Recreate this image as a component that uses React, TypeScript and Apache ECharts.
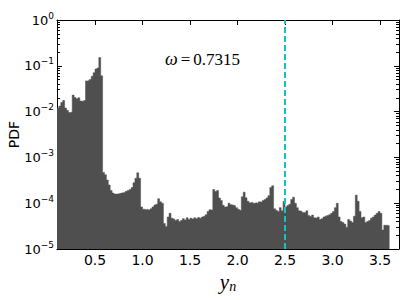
import React, { useEffect, useRef } from "react";
import * as echarts from "echarts";

// Histogram: bins start at 0.10 with width 0.02
const binStart = 0.1;
const binWidth = 0.02;

const pdfPart1 = [ // 0.10 - 0.58
  0.0120, 0.0132, 0.0158, 0.0174, 0.0120, 0.0107, 0.0095, 0.0098, 0.0229, 0.0204,
  0.0191, 0.0200, 0.0170, 0.0166, 0.0174, 0.0468, 0.0479, 0.0501, 0.0589, 0.0708,
  0.0851, 0.0891, 0.151, 0.0603, 4.7e-4,
];
const pdfPart2 = [ // 0.60 - 0.98
  4.2e-4, 3.2e-4, 2.5e-4, 1.9e-4, 1.66e-4, 1.58e-4, 1.58e-4, 1.62e-4, 1.66e-4, 1.7e-4,
  1.74e-4, 1.82e-4, 1.9e-4, 2.0e-4, 2.2e-4, 2.8e-4, 3.5e-4, 4.6e-4, 3.5e-4, 8.3e-5,
];
const pdfPart3 = [ // 1.00 - 1.28
  7.4e-5, 7.2e-5, 7.4e-5, 7.1e-5, 7.6e-5, 8.3e-5, 9.1e-5, 9.5e-5, 1.25e-4, 1.07e-4,
  1.0e-4, 3.6e-5, 3.1e-5, 5.0e-5, 6.0e-5,
];
const pdfPart4 = [ // 1.30 - 1.72
  4.7e-5, 4.5e-5, 4.2e-5, 4.4e-5, 4.0e-5, 4.2e-5, 4.6e-5, 4.3e-5, 4.8e-5, 4.4e-5,
  4.7e-5, 4.5e-5, 4.8e-5, 4.6e-5, 4.9e-5, 4.7e-5, 5.0e-5, 5.2e-5, 5.6e-5, 6.6e-5,
  7.2e-5, 7.0e-5,
];
const pdfPart5 = [ // 1.74 - 2.02
  2.0e-4, 1.8e-4, 1.9e-4, 1.3e-4, 1.15e-4, 9.0e-5, 8.3e-5, 8.5e-5, 1.0e-4, 9.3e-5,
  9.0e-5, 8.8e-5, 8.0e-5, 7.4e-5, 7.0e-5,
];
const pdfPart6 = [ // 2.04 - 2.36
  1.38e-4, 1.74e-4, 1.32e-4, 1.1e-4, 1.02e-4, 1.05e-4, 1.0e-4, 1.02e-4, 1.0e-4, 1.07e-4,
  1.05e-4, 1.15e-4, 1.2e-4, 1.3e-4, 1.45e-4, 2.2e-4, 2.4e-4,
];
const pdfPart7 = [ // 2.38 - 3.58
  7.6e-5, 7.0e-5, 6.6e-5, 8.0e-5, 6.8e-5, 1.1e-4, 8.3e-5, 8.9e-5, 9.5e-5, 1.2e-4,
  1.35e-4, 1.0e-4, 8.0e-5, 6.8e-5, 6.6e-5, 6.3e-5, 6.2e-5, 6.8e-5, 5.4e-5, 5.1e-5,
  5.5e-5, 4.8e-5, 4.7e-5, 5.0e-5, 4.4e-5, 4.6e-5, 5.0e-5, 5.2e-5, 5.4e-5, 5.6e-5,
  6.0e-5, 6.6e-5, 8.0e-5, 1.0e-4, 5.0e-5, 4.0e-5, 3.8e-5, 3.5e-5, 3.0e-5, 4.4e-5,
  4.1e-5, 3.8e-5, 5.2e-5, 1.5e-4, 1.1e-4, 6.6e-5, 4.8e-5, 5.0e-5, 3.8e-5, 4.0e-5,
  4.2e-5, 4.7e-5, 5.0e-5, 5.5e-5, 6.0e-5, 6.6e-5, 6.0e-5, 2.6e-5, 3.3e-5, 3.3e-5,
  3.2e-5,
];

const pdfValues = [
  ...pdfPart1, ...pdfPart2, ...pdfPart3, ...pdfPart4, ...pdfPart5, ...pdfPart6, ...pdfPart7,
];

const xMin = 0.1;
const xMax = 3.7;
const yMin = 1e-5;
const yMax = 1;
const markerX = 2.5;
const omegaValue = "0.7315";
const yLabel = "PDF";

const FONT = "DejaVu Sans";
const SERIF = "Liberation Serif";
const BAR = "#4f4f4f";

export default function App() {
  const ref = useRef<HTMLDivElement>(null);
  useEffect(() => {
    if (!ref.current) return;
    const chart = echarts.init(ref.current, null, { renderer: "svg" });
    const stepData: number[][] = pdfValues.map((v, i) => [binStart + i * binWidth, v]);
    stepData.push([binStart + pdfValues.length * binWidth, pdfValues[pdfValues.length - 1]]);

    const xLabelFmt = (v: number) => {
      const r = Math.round(v * 2) / 2;
      return Math.abs(r - v) < 1e-6 ? v.toFixed(1) : "";
    };
    const yLabelFmt = (v: number) => {
      const e = Math.round(Math.log10(v));
      return `{b|10}{s|${e === 0 ? "0" : "\u2212" + -e}}`;
    };

    const baseX = {
      type: "value" as const,
      min: xMin,
      max: xMax,
      splitNumber: 7,
      splitLine: { show: false },
      axisLine: { show: true, onZero: false, lineStyle: { color: "#000", width: 1 } },
      axisTick: { show: true, inside: true, length: 5, lineStyle: { color: "#000" } },
    };
    const baseY = {
      type: "log" as const,
      logBase: 10,
      min: yMin,
      max: yMax,
      splitNumber: 5,
      splitLine: { show: false },
      axisLine: { show: true, onZero: false, lineStyle: { color: "#000", width: 1 } },
      axisTick: { show: true, inside: true, length: 5, lineStyle: { color: "#000" } },
      minorTick: { show: true, splitNumber: 9, length: 3, lineStyle: { color: "#000" } },
    };

    chart.setOption({
      animation: false,
      backgroundColor: "#fff",
      grid: { left: 57, top: 20, right: 10, bottom: 51, containLabel: false, outerBoundsMode: "none" },
      xAxis: [
        {
          ...baseX,
          position: "bottom",
          axisLabel: {
            show: true,
            formatter: xLabelFmt,
            fontSize: 14,
            fontFamily: FONT,
            color: "#000",
            margin: 4,
            showMinLabel: false,
            showMaxLabel: false,
          },
          name: "{i|y}{sub|n}",
          nameLocation: "middle",
          nameGap: 22,
          nameMoveOverlap: false,
          nameTextStyle: {
            rich: {
              i: { fontFamily: SERIF, fontStyle: "italic", fontSize: 21, color: "#000" },
              sub: { fontFamily: SERIF, fontStyle: "italic", fontSize: 14, color: "#000", padding: [8, 0, 0, 0] },
            },
          },
        },
        {
          ...baseX,
          position: "top",
          axisLabel: { show: false },
        },
      ],
      yAxis: [
        {
          ...baseY,
          position: "left",
          axisLabel: {
            show: true,
            formatter: yLabelFmt,
            margin: 3,
            rich: {
              b: { fontSize: 13, fontFamily: FONT, color: "#000" },
              s: { fontSize: 9, fontFamily: FONT, color: "#000", padding: [0, 0, 9, 0] },
            },
          },
          name: yLabel,
          nameLocation: "middle",
          nameGap: 36,
          nameMoveOverlap: false,
          nameTextStyle: { fontSize: 14, fontFamily: FONT, color: "#000" },
        },
        {
          ...baseY,
          position: "right",
          axisLabel: { show: false },
        },
      ],
      graphic: [
        {
          type: "text",
          left: 165,
          top: 50,
          silent: true,
          style: {
            text: `{w|\u03c9}{q|=}{n|${omegaValue}}`,
            rich: {
              w: { fontFamily: SERIF, fontStyle: "italic", fontSize: 18, fill: "#000" },
              q: { fontFamily: SERIF, fontSize: 17, fill: "#000", padding: [0, 3, 0, 3] },
              n: { fontFamily: SERIF, fontSize: 17, fill: "#000" },
            },
          },
        },
      ],
      series: [
        {
          type: "line",
          xAxisIndex: 0,
          yAxisIndex: 0,
          data: stepData,
          step: "end",
          showSymbol: false,
          symbol: "none",
          lineStyle: { color: BAR, width: 0.5 },
          areaStyle: { color: BAR, opacity: 1, origin: "start" },
          silent: true,
          z: 2,
          markLine: {
            silent: true,
            symbol: ["none", "none"],
            label: { show: false },
            lineStyle: { color: "#10c4c4", width: 2, type: [6, 3] },
            data: [{ xAxis: markerX }],
          },
        },
      ],
    });
    return () => chart.dispose();
  }, []);

  return (
    <div
      ref={ref}
      style={{ position: "fixed", left: 0, top: 0, width: 409, height: 300, background: "#fff" }}
    />
  );
}
